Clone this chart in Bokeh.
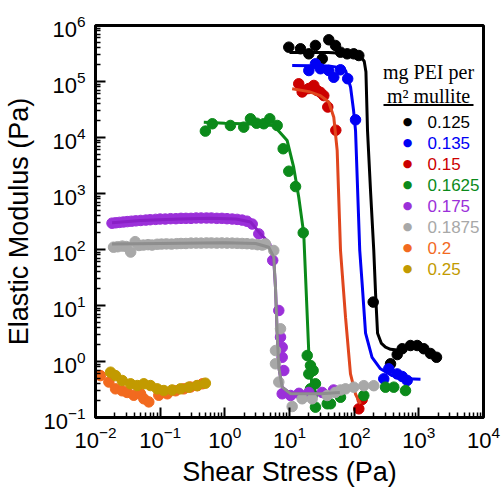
from bokeh.plotting import figure
from bokeh.models import Label, BoxAnnotation, FixedTicker
from bokeh.embed import file_html
from bokeh.resources import INLINE

# ---------------- data ----------------
series_names = ["0.125", "0.135", "0.15", "0.1625", "0.175", "0.1875", "0.2", "0.25"]

black_x = [9.75, 14.8, 19.9, 25.2, 32.1, 40.5, 51.4, 61.5, 78, 98.6, 118, 197, 365, 463, 553, 743, 944, 1194, 1514, 1876]
black_y = [4.1e5, 3.84e5, 3.12e5, 4.4e5, 2.54e5, 5.56e5, 4.4e5, 3.34e5, 3.12e5, 3.12e5, 2.91e5, 11.5, 0.91, 1.33, 1.69, 1.93, 1.93, 1.69, 1.39, 1.19]
black_fit_x = [10, 40, 100, 125, 143, 152, 161, 180, 201, 215, 230, 264, 305, 365, 468]
black_fit_y = [3.3e5, 3.3e5, 3.1e5, 2.8e5, 2.3e5, 1.5e5, 1.3e4, 1.0e3, 96, 15, 3.2, 2.1, 1.8, 1.65, 1.6]

blue_x = [19.9, 25.2, 30.1, 40.5, 48.4, 61.5, 79.4, 105, 287, 343, 463, 553, 661]
blue_y = [1.57e5, 2.07e5, 1.69e5, 1.57e5, 1.19e5, 1.62e5, 1.12e5, 2.07e4, 0.49, 0.74, 0.60, 0.54, 0.46]
blue_fit_x = [11, 40, 65, 74, 88, 98, 105, 122, 133, 150, 189, 255, 387, 661, 1061]
blue_fit_y = [1.93e5, 1.9e5, 1.75e5, 1.55e5, 7.9e4, 3.0e4, 1.33e4, 96, 24, 3.2, 1.19, 0.74, 0.56, 0.49, 0.48]

red_x = [13.9, 15.7, 16.6, 19.9, 23.8, 26.8, 30.1, 33.9, 39.1, 52, 118, 133]
red_y = [9.1e4, 6.5e4, 7.0e4, 7.5e4, 8.5e4, 6.9e4, 6.4e4, 5.6e4, 3.5e4, 1.35e4, 0.143, 0.21]
red_fit_x = [11, 20, 30, 40.5, 48.4, 54.6, 61.5, 73.5, 87.7, 105, 125]
red_fit_y = [7.4e4, 6.6e4, 5.6e4, 4.3e4, 2.3e4, 5.9e3, 96, 6.2, 0.60, 0.26, 0.175]

green_x = [0.50, 0.64, 1.22, 1.96, 2.49, 3.09, 4.0, 4.96, 6.45, 7.98, 9.75, 12.4, 16.3,
           18.8, 21.1, 23.2, 19.9, 25.2, 21.1, 22.4, 25.2, 38.3, 43, 61.5, 141, 305, 410, 622]
green_y = [1.3e4, 1.76e4, 1.64e4, 1.53e4, 2.16e4, 1.8e4, 1.76e4, 2.16e4, 1.64e4, 6.3e3, 2.5e3, 1.33e3, 199,
           1.28, 0.85, 0.69, 0.60, 0.40, 0.325, 0.247, 0.153, 0.176, 0.176, 0.23, 0.247, 0.348, 0.348, 0.303]
green_fit_x = [0.473, 1, 2.5, 5.71, 9.2, 11.6, 13.9, 16.6, 19.9, 22.4, 26.8, 35]
green_fit_y = [1.87e4, 1.8e4, 1.75e4, 1.64e4, 8.8e3, 2.95e3, 859, 193, 1.39, 0.348, 0.265, 0.25]

purple_x = [0.018, 0.0205, 0.0235, 0.027, 0.031, 0.036, 0.042, 0.05, 0.06, 0.07, 0.085, 0.1, 0.12,
            0.145, 0.175, 0.21, 0.25, 0.3, 0.36, 0.43, 0.52, 0.62, 0.75, 0.9, 1.08, 1.3, 1.55, 1.85,
            2.2, 2.65, 3.35, 5.5, 6.83, 7.26, 7.71, 7.71, 8.16, 7.71, 10.4, 14, 19.9, 32, 48]
purple_y = [295, 300, 305, 310, 315, 320, 325, 330, 335, 340, 345, 350, 350,
            355, 355, 360, 360, 360, 365, 365, 365, 365, 360, 360, 355, 350, 345, 335,
            320, 285, 190, 64, 8.15, 2.72, 1.8, 1.19, 0.69, 0.265, 0.247, 0.27, 0.28, 0.28, 0.31]
purple_fit_x = [0.018, 0.05, 0.2, 0.6, 1.5, 2.5, 3.56, 4.96, 5.71, 6.07, 6.45, 6.83, 7.71, 10.4, 30, 60]
purple_fit_y = [300, 330, 350, 360, 350, 310, 190, 126, 64, 21, 3.12, 0.79, 0.348, 0.265, 0.265, 0.28]

gray_x = [0.019, 0.022, 0.026, 0.03, 0.035, 0.041, 0.047, 0.055, 0.065, 0.075, 0.09, 0.105, 0.125,
          0.15, 0.18, 0.21, 0.25, 0.3, 0.36, 0.43, 0.52, 0.62, 0.75, 0.9, 1.08, 1.3, 1.55, 1.85,
          2.2, 2.65, 3.2, 3.8, 4.25, 5.71, 7.26, 6.07, 6.07, 6.83, 11, 15.7, 22.4, 38.3, 51, 61.5,
          73.5, 98.6, 141, 201]
gray_y = [110, 112, 115, 113, 90, 138, 118, 120, 122, 120, 124, 125, 126,
          125, 127, 128, 128, 130, 130, 130, 131, 131, 130, 131, 130, 130, 129, 128,
          127, 125, 122, 120, 126, 96, 3.84, 1.57, 0.91, 0.43, 0.157, 0.216, 0.216, 0.247, 0.28, 0.31,
          0.325, 0.348, 0.37, 0.37]
gray_fit_x = [0.018, 0.1, 1, 3, 4.78, 5.71, 6.07, 6.45, 6.83, 7.71, 10.4, 30, 60]
gray_fit_y = [125, 128, 132, 128, 110, 73, 21, 3.12, 0.79, 0.348, 0.265, 0.265, 0.28]

orange_x = [0.0119, 0.0161, 0.0204, 0.0259, 0.0309, 0.0391, 0.0497, 0.0559, 0.0667, 0.0953,
            0.129, 0.173, 0.232, 0.294, 0.374, 0.45]
orange_y = [0.56, 0.43, 0.325, 0.30, 0.28, 0.25, 0.265, 0.216, 0.19, 0.25,
            0.265, 0.30, 0.325, 0.35, 0.37, 0.40]

gold_x = [0.0171, 0.0204, 0.0259, 0.0348, 0.0442, 0.0559, 0.0708, 0.090, 0.114, 0.153,
          0.206, 0.277, 0.374, 0.50]
gold_y = [0.644, 0.56, 0.458, 0.40, 0.372, 0.40, 0.372, 0.325, 0.303, 0.31,
          0.325, 0.348, 0.372, 0.41]

x_ticks = [1e-2, 1e-1, 1e0, 1e1, 1e2, 1e3, 1e4]
y_ticks = [1e-1, 1e0, 1e1, 1e2, 1e3, 1e4, 1e5, 1e6]

# ---------------- styles ----------------
C_BLACK = "#000000"
C_BLUE = "#0000F5"
C_RED = "#CC0000"
C_RED_LINE = "#E0461E"
C_GREEN = "#0B8A1A"
C_PURPLE = "#9B30D9"
C_PURPLE_LINE = "#8A1FC6"
C_GRAY = "#A8A8A8"
C_GRAY_LINE = "#8E8E8E"
C_ORANGE = "#F26A1F"
C_GOLD = "#C29A00"

p = figure(width=504, height=489, x_axis_type="log", y_axis_type="log",
           x_range=(1e-2, 1e4), y_range=(1e-1, 1e6),
           output_backend="svg", toolbar_location=None,
           min_border_left=95, min_border_right=21, min_border_top=25, min_border_bottom=72)

p.xgrid.visible = False
p.ygrid.visible = False
p.background_fill_color = "white"
p.border_fill_color = "white"
p.outline_line_color = "black"
p.outline_line_width = 3

def minor_for(ticks):
    out = []
    for t in ticks[:-1]:
        for k in range(2, 10):
            out.append(t * k)
    return out

p.xaxis.ticker = FixedTicker(ticks=x_ticks, minor_ticks=minor_for(x_ticks))
p.yaxis.ticker = FixedTicker(ticks=y_ticks, minor_ticks=minor_for(y_ticks))

for ax in (p.xaxis, p.yaxis):
    ax.axis_line_width = 3
    ax.axis_line_color = "black"
    ax.major_tick_in = 10
    ax.major_tick_out = 0
    ax.minor_tick_in = 5
    ax.minor_tick_out = 0
    ax.major_tick_line_width = 2
    ax.minor_tick_line_width = 1.5
    ax.major_label_text_font = "Liberation Sans"
    ax.major_label_text_font_size = "22px"
    ax.major_label_text_color = "black"
    ax.axis_label_text_font = "Liberation Sans"
    ax.axis_label_text_font_size = "27px"
    ax.axis_label_text_font_style = "normal"
    ax.axis_label_text_color = "black"

p.xaxis.axis_label = "Shear Stress (Pa)"
p.yaxis.axis_label = "Elastic Modulus (Pa)"
p.xaxis.major_label_standoff = 8
p.yaxis.major_label_standoff = 10
p.xaxis.axis_label_standoff = 6
p.yaxis.axis_label_standoff = 6

MS = 10.5
LW = 3

series = [
    (black_x, black_y, black_fit_x, black_fit_y, C_BLACK, C_BLACK),
    (blue_x, blue_y, blue_fit_x, blue_fit_y, C_BLUE, C_BLUE),
    (red_x, red_y, red_fit_x, red_fit_y, C_RED, C_RED_LINE),
    (green_x, green_y, green_fit_x, green_fit_y, C_GREEN, C_GREEN),
    (purple_x, purple_y, purple_fit_x, purple_fit_y, C_PURPLE, C_PURPLE_LINE),
    (gray_x, gray_y, gray_fit_x, gray_fit_y, C_GRAY, C_GRAY_LINE),
]
for xs, ys, fx, fy, pc, lc in series:
    p.scatter(xs, ys, size=MS, fill_color=pc, line_color=pc, marker="circle")
    p.line(fx, fy, line_color=lc, line_width=LW)

p.scatter(orange_x, orange_y, size=MS, fill_color=C_ORANGE, line_color=C_ORANGE)
p.scatter(gold_x, gold_y, size=MS, fill_color=C_GOLD, line_color=C_GOLD)

# ---------------- legend (screen units relative to the frame) ----------------
legend_colors = [C_BLACK, C_BLUE, C_RED, C_GREEN, C_PURPLE, C_GRAY, C_ORANGE, C_GOLD]
title_x = 333
p.add_layout(Label(x=title_x, y=346, x_units="screen", y_units="screen", text="mg PEI per",
                   text_font="Liberation Serif", text_font_size="20px", text_color="black",
                   text_align="center", text_baseline="middle"))
p.add_layout(Label(x=title_x, y=322, x_units="screen", y_units="screen", text="m\u00b2 mullite",
                   text_font="Liberation Serif", text_font_size="20px", text_color="black",
                   text_align="center", text_baseline="middle"))
p.add_layout(BoxAnnotation(left=288, right=378, bottom=311.5, top=313.5,
                           left_units="screen", right_units="screen",
                           top_units="screen", bottom_units="screen",
                           fill_color="black", fill_alpha=1.0, line_color=None))

row0 = 296
step = 21
for i, (name, col) in enumerate(zip(series_names, legend_colors)):
    yy = row0 - i * step
    p.add_layout(Label(x=312, y=yy, x_units="screen", y_units="screen", text="\u25cf",
                       text_font="DejaVu Sans", text_font_size="11px", text_color=col,
                       text_align="center", text_baseline="middle"))
    p.add_layout(Label(x=332, y=yy, x_units="screen", y_units="screen", text=name,
                       text_font="Liberation Sans", text_font_size="17px", text_color=col,
                       text_align="left", text_baseline="middle"))

open("out.html", "w").write(file_html(p, INLINE))
